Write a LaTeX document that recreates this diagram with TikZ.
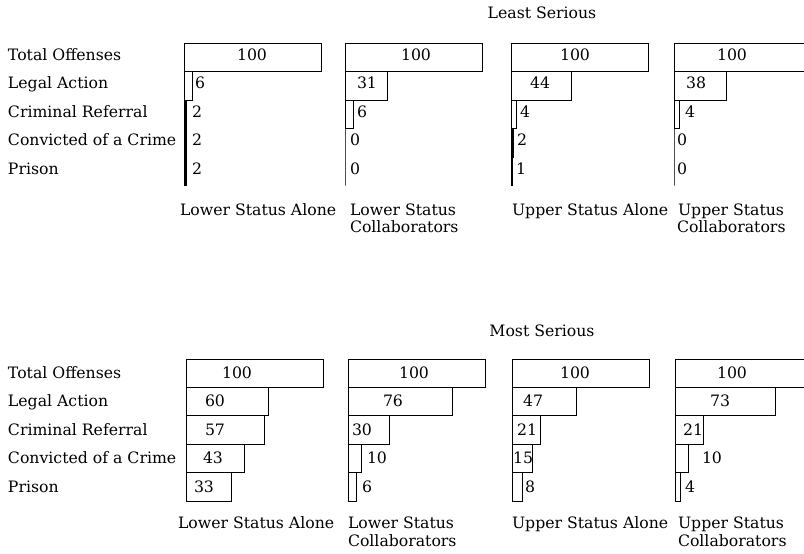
\documentclass[tikz,border=0pt]{standalone}
\usepackage{fontspec}
\setmainfont{DejaVu Serif}
\tikzset{
  barline/.style={draw=black, line width=1pt},
  txt/.style={font=\fontsize{15.7}{18}\selectfont, inner sep=0pt, outer sep=0pt},
}
\newcommand\mypanel[5]{%
  \foreach \v/\lx/\an [count=\i from 0] in {#5} {
    \pgfmathsetmacro\yt{#3+28.4*\i}
    \pgfmathsetmacro\w{1.37*\v}
    \ifnum\v<3
      \draw[barline,fill=black] (#2,\yt) rectangle ++(\w,28.4);
    \else
      \draw[barline] (#2,\yt) rectangle ++(\w,28.4);
    \fi
    \node[txt,anchor=\an] (#1\i) at (\lx,\yt+#4) {\v};
  }}
\begin{document}
\begin{tikzpicture}[x=1pt,y=-1pt]
\useasboundingbox (0,0) rectangle (804,554);
\clip (0,0) rectangle (804,554);
% headings
\node[txt,anchor=base] (least) at (542,18) {Least Serious};
\node[txt,anchor=base] (most) at (542,336) {Most Serious};
% row labels
\foreach \t [count=\i from 0] in {Total Offenses,Legal Action,Criminal Referral,Convicted of a Crime,Prison} {
  \node[txt,anchor=base west] (rt\i) at (8,43.5+17+28.4*\i) {\t};
  \node[txt,anchor=base west] (rb\i) at (8,359+19.5+28.4*\i) {\t};
}
% top panels
\mypanel{tA}{184}{43.5}{17}{100/252/base,6/195/base west,2/192/base west,2/192/base west,2/192/base west}
\mypanel{tB}{345}{43.5}{17}{100/416/base,31/367/base,6/357/base west,0/350/base west,0/350/base west}
\mypanel{tC}{511}{43.5}{17}{100/575/base,44/540/base,4/520/base west,2/517/base west,1/516/base west}
\mypanel{tD}{674}{43.5}{17}{100/732/base,38/696/base,4/685/base west,0/677/base west,0/677/base west}
% bottom panels
\mypanel{bA}{186}{359}{19.5}{100/237/base,60/215/base,57/215/base,43/213/base,33/204/base}
\mypanel{bB}{348}{359}{19.5}{100/414/base,76/393/base,30/362/base,10/367/base west,6/362/base west}
\mypanel{bC}{512}{359}{19.5}{100/575/base,47/533/base,21/527/base,15/523/base,8/525/base west}
\mypanel{bD}{675}{359}{19.5}{100/732/base,73/720/base,21/693/base,10/702/base west,4/685/base west}
% column labels top
\node[txt,anchor=base west] (ctA) at (180,215) {Lower Status Alone};
\node[txt,anchor=base west] (ctB1) at (350,215) {Lower Status};
\node[txt,anchor=base west] (ctB2) at (350,232) {Collaborators};
\node[txt,anchor=base west] (ctC) at (512,215) {Upper Status Alone};
\node[txt,anchor=base west] (ctD1) at (678,215) {Upper Status};
\node[txt,anchor=base west] (ctD2) at (677,232) {Collaborators};
% column labels bottom
\node[txt,anchor=base west] (cbA) at (178,528) {Lower Status Alone};
\node[txt,anchor=base west] (cbB1) at (348,528) {Lower Status};
\node[txt,anchor=base west] (cbB2) at (348,546) {Collaborators};
\node[txt,anchor=base west] (cbC) at (512,528) {Upper Status Alone};
\node[txt,anchor=base west] (cbD1) at (678,528) {Upper Status};
\node[txt,anchor=base west] (cbD2) at (678,546) {Collaborators};
\end{tikzpicture}
\end{document}
